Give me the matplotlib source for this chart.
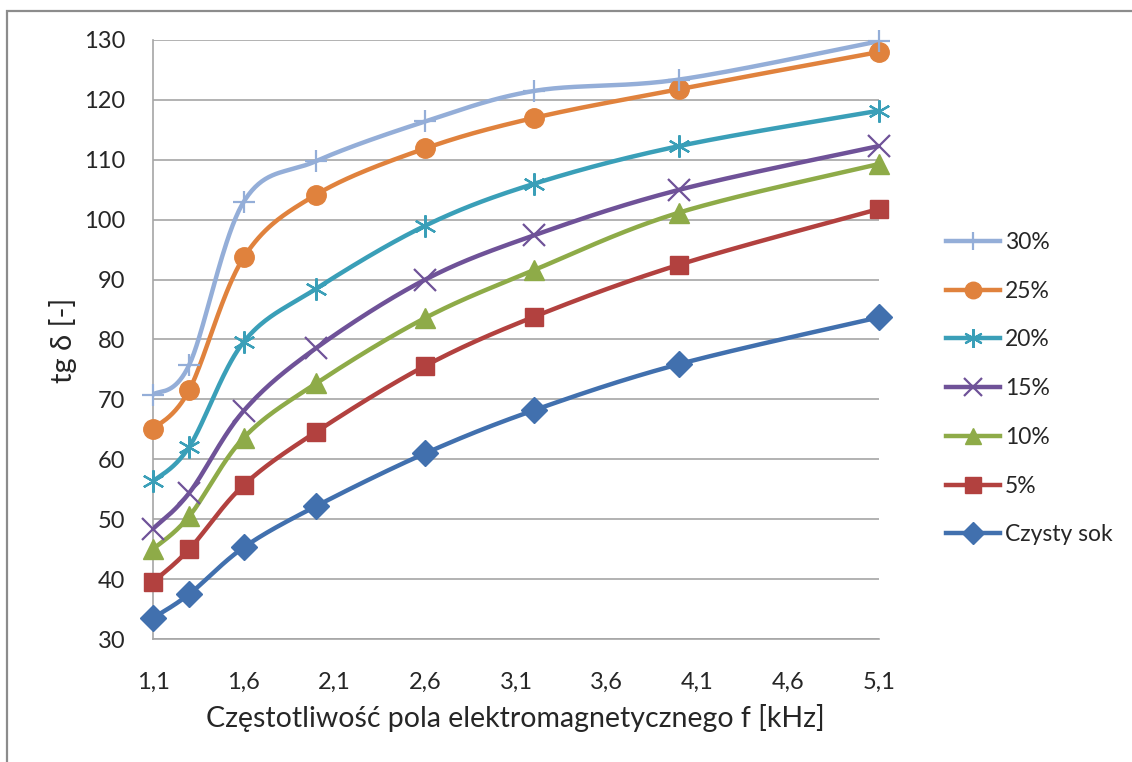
import numpy as np
import matplotlib
matplotlib.use("Agg")
import matplotlib.pyplot as plt
from matplotlib.patches import Rectangle
from matplotlib.lines import Line2D

plt.rcParams['font.family'] = ['Lato', 'DejaVu Sans']

# Frequency of the electromagnetic field [kHz]
freq = [1.1, 1.3, 1.6, 2.0, 2.6, 3.2, 4.0, 5.1]

# tg delta for each juice variant
czysty_sok = [33.5, 37.5, 45.3, 52.2, 61.0, 68.2, 75.9, 83.7]
p5 = [39.5, 45.0, 55.7, 64.6, 75.6, 83.8, 92.5, 101.8]
p10 = [45.0, 50.5, 63.6, 72.7, 83.6, 91.6, 101.2, 109.3]
p15 = [48.4, 54.4, 68.1, 78.6, 90.0, 97.4, 105.0, 112.3]
p20 = [56.3, 62.1, 79.6, 88.5, 99.0, 106.0, 112.3, 118.2]
p25 = [65.0, 71.6, 93.7, 104.2, 111.9, 117.0, 121.8, 128.0]
p30 = [70.8, 75.8, 103.0, 109.8, 116.4, 121.5, 123.4, 129.8]

series_labels = ['30%', '25%', '20%', '15%', '10%', '5%', 'Czysty sok']
series_values = [p30, p25, p20, p15, p10, p5, czysty_sok]

x_ticks = [1.1, 1.6, 2.1, 2.6, 3.1, 3.6, 4.1, 4.6, 5.1]
x_tick_labels = ['1,1', '1,6', '2,1', '2,6', '3,1', '3,6', '4,1', '4,6', '5,1']
y_ticks = list(range(30, 131, 10))

colors = ['#94AED8', '#E0823D', '#3A9FB8', '#6F5298', '#8EAB48', '#B2413F', '#4170AE']
markers = ['+', 'o', (6, 2, 0), 'x', '^', 's', 'D']
msizes = [16, 14, 16, 16, 14, 13, 13]
mew = [1.6, 1, 1.6, 1.6, 1, 1, 1]

W, H = 1132, 762
fig = plt.figure(figsize=(W / 100, H / 100), dpi=100)
L, R, T, B = 153, 879, 40, 639
ax = fig.add_axes([L / W, 1 - B / H, (R - L) / W, (B - T) / H])

xmin, xmax, ymin, ymax = 1.1, 5.1, 30, 130
sx = (R - L) / (xmax - xmin)
sy = (B - T) / (ymax - ymin)


def smooth(xs, ys, n=40):
    """Cardinal (Catmull-Rom) Bezier smoothing computed in pixel space."""
    px = np.asarray(xs) * sx
    py = np.asarray(ys) * sy
    P = np.column_stack([px, py])
    out = []
    for i in range(len(P) - 1):
        p0 = P[i - 1] if i > 0 else P[i]
        p1 = P[i]
        p2 = P[i + 1]
        p3 = P[i + 2] if i + 2 < len(P) else P[i + 1]
        c1 = p1 + (p2 - p0) / 6
        c2 = p2 - (p3 - p1) / 6
        t = np.linspace(0, 1, n)[:, None]
        seg = ((1 - t) ** 3) * p1 + 3 * ((1 - t) ** 2) * t * c1 + 3 * (1 - t) * t ** 2 * c2 + t ** 3 * p2
        out.append(seg if i == 0 else seg[1:])
    out = np.vstack(out)
    return out[:, 0] / sx, out[:, 1] / sy


handles = []
for lab, vals, c, m, ms, mw in reversed(list(zip(series_labels, series_values, colors, markers, msizes, mew))):
    cx, cy = smooth(freq, vals)
    ax.plot(cx, cy, color=c, lw=3.2, solid_capstyle='round', zorder=3)
    ax.plot(freq, vals, linestyle='none', marker=m, markersize=ms,
            color=c, markeredgecolor=c, markeredgewidth=mw, zorder=4, clip_on=False)

for lab, c, m, ms, mw in zip(series_labels, colors, markers, msizes, mew):
    handles.append(Line2D([], [], color=c, lw=3.2, marker=m, markersize=ms * 0.85,
                          markeredgecolor=c, markeredgewidth=mw, label=lab))

ax.set_xlim(xmin, xmax)
ax.set_ylim(ymin, ymax)
ax.set_xticks(x_ticks)
ax.set_xticklabels(x_tick_labels)
ax.set_yticks(y_ticks)
ax.tick_params(length=0, labelsize=17, colors='#262626')
ax.tick_params(axis='y', pad=20)
ax.tick_params(axis='x', pad=24)
ax.grid(axis='y', color='#A6A6A6', lw=1.2, zorder=0)
for s in ['top', 'right']:
    ax.spines[s].set_visible(False)
for s in ['left', 'bottom']:
    ax.spines[s].set_color('#A6A6A6')
    ax.spines[s].set_linewidth(1.2)

fig.text(515 / W, 1 - 718 / H, 'Częstotliwość pola elektromagnetycznego f [kHz]',
         ha='center', va='center', fontsize=20.5, color='#262626')
fig.text(63 / W, 1 - 340 / H, 'tg δ [-]', ha='center', va='center',
         rotation=90, fontsize=21, color='#262626')

fig.legend(handles=handles, loc='upper left', bbox_to_anchor=(946 / W, 1 - 232 / H),
           frameon=False, fontsize=16.5, handlelength=2.36, handletextpad=0.22,
           labelspacing=1.21, borderaxespad=0, borderpad=0, labelcolor='#262626')

fig.patches.append(Rectangle((7 / W, -0.05), 1.2, 1.05 - 11 / H, transform=fig.transFigure,
                             fill=False, edgecolor='#8C8C8C', lw=1.6))

fig.savefig('out.png', dpi=100, facecolor='white')
